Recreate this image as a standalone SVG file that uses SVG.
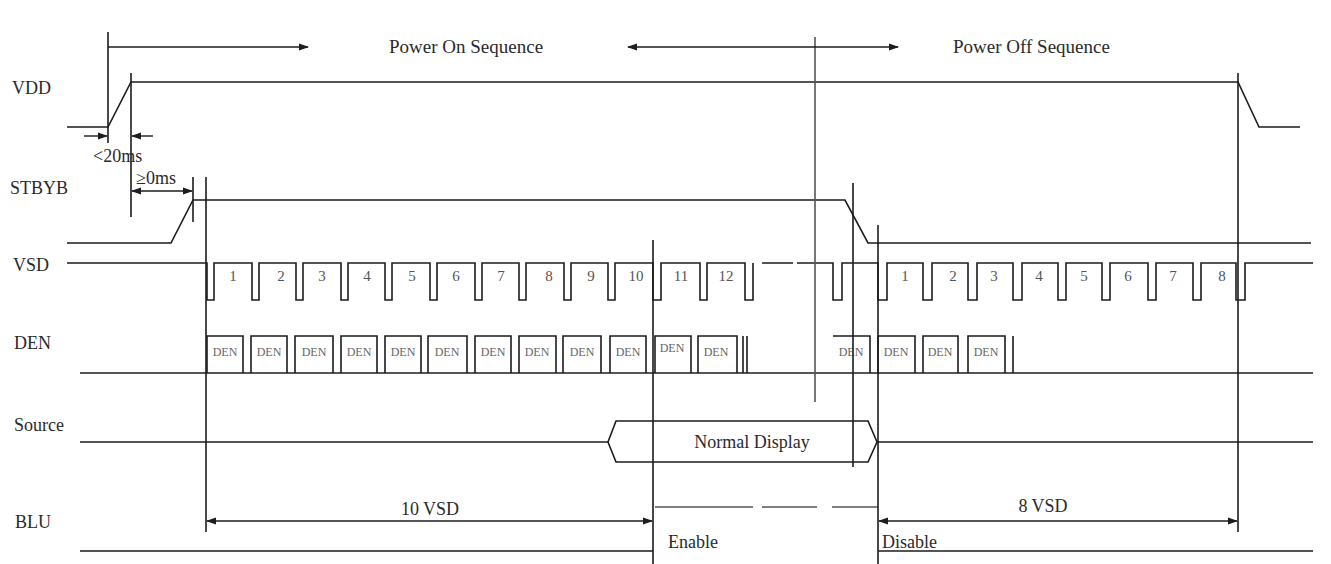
<svg xmlns="http://www.w3.org/2000/svg" width="1331" height="564" viewBox="0 0 1331 564">
<style>
.w{fill:none;stroke:#1c1c1c;stroke-width:1.6}
.g{fill:none;stroke:#555;stroke-width:1.6}
.t{font-family:"Liberation Serif","Times New Roman",serif;font-size:18px;fill:#2a2a2a}
.h{font-family:"Liberation Serif","Times New Roman",serif;font-size:19px;fill:#2a2a2a}
.n{font-family:"Liberation Serif","Times New Roman",serif;font-size:15px;fill:#555;text-anchor:middle}
.d{font-family:"Liberation Serif","Times New Roman",serif;font-size:12px;fill:#666;text-anchor:middle}
.a{fill:none;stroke:#1c1c1c;stroke-width:1.4;marker-end:url(#ah)}
.b{fill:none;stroke:#1c1c1c;stroke-width:1.4;marker-end:url(#ah);marker-start:url(#ah)}
</style>
<defs>
<marker id="ah" markerWidth="10" markerHeight="8" refX="9" refY="4" orient="auto-start-reverse" markerUnits="userSpaceOnUse">
<path d="M0,0.5 L10,4 L0,7.5 Z" fill="#1c1c1c"/>
</marker>
</defs>
<rect width="1331" height="564" fill="#fff"/>

<g id="labels">
<text class="t" x="12" y="94">VDD</text>
<text class="t" x="10" y="194">STBYB</text>
<text class="t" x="13" y="271">VSD</text>
<text class="t" x="14" y="349">DEN</text>
<text class="t" x="14" y="431">Source</text>
<text class="t" x="15" y="528">BLU</text>
</g>

<g id="vdd">
<path class="w" d="M67,127 H108 L131,82 H1238 L1259,127 H1300"/>
</g>

<g id="stbyb">
<path class="w" d="M67,243 H171 L193,200 H845 L868,243 H1311"/>
</g>

<g id="vsd">
<path class="w" d="M67,263 H207 V300 H214 V263 H252 V300 H259 V263 H296 V300 H303 V263 H341 V300 H348 V263 H385 V300 H392 V263 H430 V300 H437 V263 H475 V300 H482 V263 H519 V300 H526 V263 H564 V300 H571 V263 H608 V300 H615 V263 H653 V300 H661 V263 H700 V300 H707 V263 H745 V300 H753 V263"/>
<path class="w" d="M762,263 H793 M797,263 H833 V300 H842 V263 H878 V300 H887 V263 H923 V300 H932 V263 H968 V300 H977 V263 H1013 V300 H1022 V263 H1058 V300 H1066 V263 H1102 V300 H1110 V263 H1148 V300 H1156 V263 H1193 V300 H1201 V263 H1236 V300 H1245 V263 H1313"/>
<text class="n" x="233" y="281">1</text>
<text class="n" x="281" y="281">2</text>
<text class="n" x="322" y="281">3</text>
<text class="n" x="367" y="281">4</text>
<text class="n" x="412" y="281">5</text>
<text class="n" x="456" y="281">6</text>
<text class="n" x="501" y="281">7</text>
<text class="n" x="549" y="281">8</text>
<text class="n" x="591" y="281">9</text>
<text class="n" x="636" y="281">10</text>
<text class="n" x="681" y="281">11</text>
<text class="n" x="726" y="281">12</text>
<text class="n" x="905" y="281">1</text>
<text class="n" x="953" y="281">2</text>
<text class="n" x="994" y="281">3</text>
<text class="n" x="1039" y="281">4</text>
<text class="n" x="1084" y="281">5</text>
<text class="n" x="1128" y="281">6</text>
<text class="n" x="1173" y="281">7</text>
<text class="n" x="1222" y="281">8</text>
</g>

<g id="den">
<path class="w" d="M80,373 H1313"/>
<path class="w" d="M207,373 V336 H243 V373 M251,373 V336 H287 V373 M295,373 V336 H333 V373 M341,373 V336 H377 V373 M385,373 V336 H421 V373 M428,373 V336 H467 V373 M475,373 V336 H511 V373 M519,373 V336 H556 V373 M563,373 V336 H601 V373 M610,373 V336 H646 V373 M655,373 V336 H691 V373 M698,373 V336 H737 V373 M743,373 V336 M747,373 V336"/>
<path class="w" d="M833,336 H870 V373 M878,373 V336 H915 V373 M923,373 V336 H958 V373 M968,373 V336 H1005 V373 M1013,373 V336"/>
<text class="d" x="225" y="356">DEN</text>
<text class="d" x="269" y="356">DEN</text>
<text class="d" x="314" y="356">DEN</text>
<text class="d" x="359" y="356">DEN</text>
<text class="d" x="403" y="356">DEN</text>
<text class="d" x="447" y="356">DEN</text>
<text class="d" x="493" y="356">DEN</text>
<text class="d" x="537" y="356">DEN</text>
<text class="d" x="582" y="356">DEN</text>
<text class="d" x="628" y="356">DEN</text>
<text class="d" x="672" y="352">DEN</text>
<text class="d" x="716" y="356">DEN</text>
<text class="d" x="851" y="356">DEN</text>
<text class="d" x="896" y="356">DEN</text>
<text class="d" x="940" y="356">DEN</text>
<text class="d" x="986" y="356">DEN</text>
</g>

<g id="source">
<path class="w" d="M80,442 H608 M877,442 H1313"/>
<path class="w" d="M608,442 L616,421 H868 L877,442 L868,462 H616 Z"/>
<text class="t" x="752" y="448" text-anchor="middle">Normal Display</text>
</g>

<g id="blu">
<path class="w" d="M80,551 H653 M878,551 H1313"/>
<path class="g" d="M655,507 H753 M762,507 H817 M832,507 H878"/>
<text class="t" x="668" y="548">Enable</text>
<text class="t" x="882" y="548">Disable</text>
</g>

<g id="connectors">
<path class="w" d="M108,32 V143 M131,73 V217 M193,177 V222 M206,177 V532 M653,240 V564 M853,183 V467 M878,225 V564 M1238,73 V532"/>
<path class="g" d="M815,37 V402"/>
<path class="a" d="M108,47 H308"/>
<path class="b" d="M628,47 H898"/>
<path class="a" d="M84,136 H107"/>
<path class="a" d="M153,136 H132"/>
<path class="b" d="M132,191 H192"/>
<path class="b" d="M207,521 H652"/>
<path class="b" d="M879,521 H1237"/>
<text class="h" x="389" y="53">Power On Sequence</text>
<text class="h" x="953" y="53">Power Off Sequence</text>
<text class="t" x="93" y="162">&lt;20ms</text>
<text class="t" x="136" y="184">≥0ms</text>
<text class="t" x="430" y="515" text-anchor="middle">10 VSD</text>
<text class="t" x="1043" y="512" text-anchor="middle">8 VSD</text>
</g>
</svg>
